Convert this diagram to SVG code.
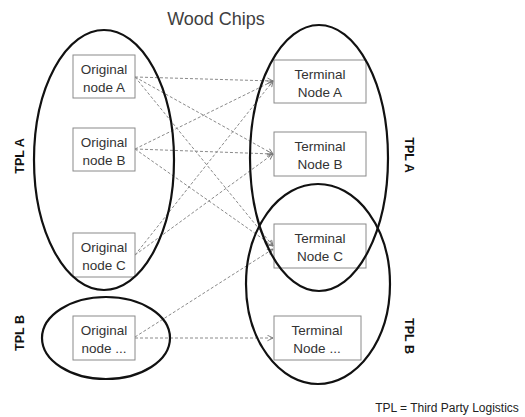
<svg xmlns="http://www.w3.org/2000/svg" width="525" height="417" viewBox="0 0 525 417">
<style>
.box{fill:#fff;stroke:#8a8a8a;stroke-width:1}
.nt{font-family:"Liberation Sans",Arial,sans-serif;font-size:13.5px;fill:#333;text-anchor:middle}
.grp{fill:none;stroke:#111;stroke-width:2.2}
.tpl{font-family:"Liberation Sans",Arial,sans-serif;font-size:12.5px;font-weight:bold;fill:#111;text-anchor:middle;dominant-baseline:central}
.cn{fill:none;stroke:#8a8a8a;stroke-width:1;stroke-dasharray:3,2;marker-end:url(#ah)}
</style>
<defs>
<marker id="ah" viewBox="0 0 10 10" refX="9" refY="5" markerWidth="7" markerHeight="7" orient="auto" markerUnits="userSpaceOnUse">
<path d="M1,1 L9,5 L1,9" fill="none" stroke="#777" stroke-width="1.3"/>
</marker>
</defs>
<rect width="525" height="417" fill="#fff"/>
<text x="216" y="25" font-family="'Liberation Sans',Arial,sans-serif" font-size="18" fill="#404040" text-anchor="middle">Wood Chips</text>

<g id="connectors">
<line class="cn" x1="135" y1="77" x2="273" y2="81"/>
<line class="cn" x1="135" y1="77" x2="273" y2="154"/>
<line class="cn" x1="135" y1="77" x2="273" y2="246"/>
<line class="cn" x1="135" y1="149" x2="273" y2="81"/>
<line class="cn" x1="135" y1="149" x2="273" y2="154"/>
<line class="cn" x1="135" y1="149" x2="273" y2="246"/>
<line class="cn" x1="135" y1="255" x2="273" y2="81"/>
<line class="cn" x1="135" y1="255" x2="273" y2="154"/>
<line class="cn" x1="135" y1="337" x2="273" y2="249"/>
<line class="cn" x1="135" y1="338" x2="273" y2="338"/>
</g>

<g id="origA">
<rect class="box" x="73" y="55" width="62" height="43"/>
<text class="nt" x="104" y="74">Original</text>
<text class="nt" x="104" y="92">node A</text>
</g>
<g id="origB">
<rect class="box" x="73" y="128" width="62" height="43"/>
<text class="nt" x="104" y="147">Original</text>
<text class="nt" x="104" y="165">node B</text>
</g>
<g id="origC">
<rect class="box" x="73" y="233" width="62" height="44"/>
<text class="nt" x="104" y="252">Original</text>
<text class="nt" x="104" y="270">node C</text>
</g>
<g id="origEtc">
<rect class="box" x="73" y="316" width="62" height="44"/>
<text class="nt" x="104" y="335">Original</text>
<text class="nt" x="104" y="353">node ...</text>
</g>

<g id="termA">
<rect class="box" x="274" y="60" width="92" height="43"/>
<text class="nt" x="320" y="79">Terminal</text>
<text class="nt" x="320" y="97">Node A</text>
</g>
<g id="termB">
<rect class="box" x="274" y="132" width="92" height="44"/>
<text class="nt" x="320" y="151">Terminal</text>
<text class="nt" x="320" y="169">Node B</text>
</g>
<g id="termC">
<rect class="box" x="274" y="224" width="92" height="44"/>
<text class="nt" x="320" y="243">Terminal</text>
<text class="nt" x="320" y="261">Node C</text>
</g>
<g id="termEtc">
<rect class="box" x="274" y="316" width="87" height="44"/>
<text class="nt" x="317" y="335">Terminal</text>
<text class="nt" x="317" y="353">Node ...</text>
</g>

<g id="groupLeftA">
<ellipse class="grp" cx="104" cy="160" rx="70" ry="130" stroke-width="2.6"/>
<text class="tpl" transform="translate(20,156) rotate(-90)">TPL  A</text>
</g>
<g id="groupLeftB">
<ellipse class="grp" cx="106" cy="338" rx="64" ry="41" stroke-width="1.8"/>
<text class="tpl" transform="translate(20,333) rotate(-90)">TPL  B</text>
</g>
<g id="groupRightA">
<ellipse class="grp" cx="319" cy="158" rx="69" ry="133" stroke-width="2.4"/>
<text class="tpl" transform="translate(409,155) rotate(90)">TPL  A</text>
</g>
<g id="groupRightB">
<ellipse class="grp" cx="318" cy="284" rx="72" ry="100" stroke-width="1.8"/>
<text class="tpl" transform="translate(409,336) rotate(90)">TPL  B</text>
</g>

<text x="447" y="412" font-family="'Liberation Sans',Arial,sans-serif" font-size="12" fill="#222" text-anchor="middle">TPL = Third Party Logistics</text>
</svg>
